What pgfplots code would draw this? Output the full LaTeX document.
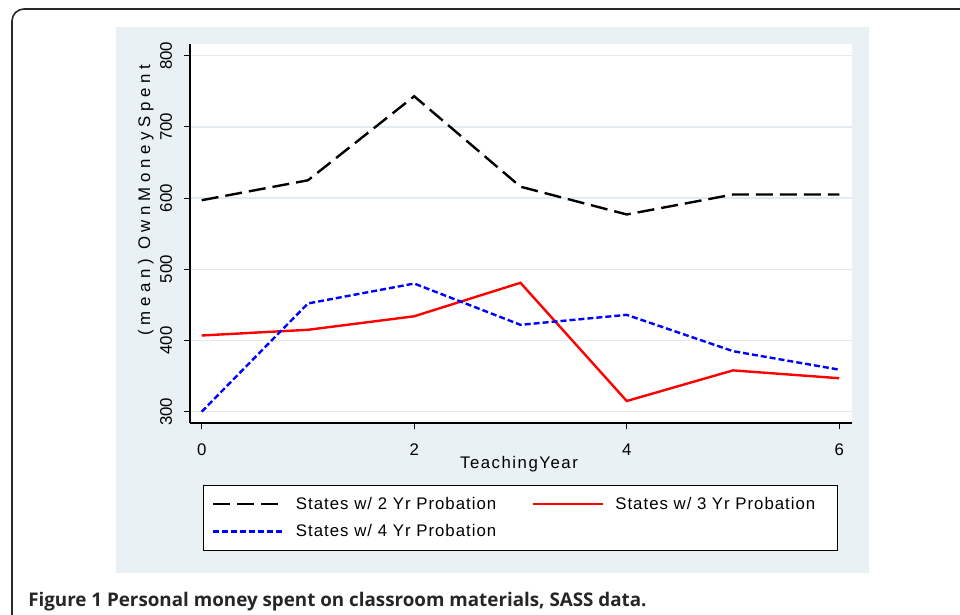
\documentclass[border=0pt]{standalone}
\usepackage{pgfplots}
\pgfplotsset{compat=1.18}
\usepackage{fontspec}
\setmainfont{Liberation Sans}
\newfontfamily\capfont{Open Sans}
\newfontfamily\ylabfont[LetterSpace=28]{Liberation Sans}
\newfontfamily\xlabfont[LetterSpace=9]{Liberation Sans}
\newfontfamily\legfont[LetterSpace=6]{Liberation Sans}
\definecolor{bgcol}{RGB}{233,241,244}
\definecolor{gridcol}{RGB}{226,236,240}
\definecolor{framecol}{RGB}{40,40,40}
\begin{document}
\begin{tikzpicture}[x=0.75pt,y=0.75pt]
\useasboundingbox (0,0) rectangle (960,-614);
\clip (0,0) rectangle (960,-614);
\fill[white] (0,0) rectangle (960,-614);
\draw[framecol, line width=1.2pt, rounded corners=9pt] (12,-9) rectangle (1000,-700);
\fill[bgcol] (115.7,-27) rectangle (869,-573);
\begin{axis}[
  at={(142.5pt,-317.25pt)}, anchor=south west,
  scale only axis, width=496.5pt, height=284.25pt,
  xmin=-0.11, xmax=6.12, ymin=284.1, ymax=816.4,
  axis background/.style={fill=white},
  axis lines*=left,
  axis line style={-, line width=0.9pt, black},
  xtick={0,2,4,6}, ytick={300,400,500,600,700,800},
  tick align=outside, major tick length=4.5pt,
  tick style={line width=0.8pt, black},
  ymajorgrids, major grid style={gridcol, line width=1.1pt},
  /pgf/number format/assume math mode=true,
  ticklabel style={font=\fontsize{12.6pt}{14pt}\selectfont},
  yticklabel style={rotate=90, anchor=south},
  yticklabel shift=5.5pt, xticklabel shift=7.5pt,
  xlabel={TeachingYear},
  xlabel style={at={(axis description cs:0.497,-0.108)}, anchor=center, font=\fontsize{12.6pt}{14pt}\xlabfont},
  ylabel={(mean) OwnMoneySpent},
  ylabel style={at={(axis description cs:-0.0668,0.588)}, anchor=center, font=\fontsize{12.6pt}{14pt}\ylabfont},
  legend columns=2,
  legend style={at={(axis description cs:0.0192,-0.1625)}, anchor=north west,
    draw=black, line width=0.8pt, fill=white, inner xsep=6.75pt, inner ysep=7pt,
    font=\fontsize{12.6pt}{14pt}\legfont, row sep=5.8pt,
    cells={anchor=west, inner sep=0pt},
    /tikz/every odd column/.append style={column sep=6pt},
    /tikz/column 2/.style={column sep=24.5pt},
    /tikz/column 4/.style={text width=158pt}},
  legend image code/.code={\draw[#1] (0pt,0pt) -- (53pt,0pt);},
]
\addplot[black, line width=1.8pt, dash pattern=on 12.75pt off 5.25pt] coordinates {(0,597)(1,625)(2,743)(3,616)(4,577)(5,605)(6,605)};
\addlegendentry{States w/ 2 Yr Probation}
\addplot[red, line width=1.8pt] coordinates {(0,407)(1,415)(2,434)(3,481)(4,315)(5,358)(6,347)};
\addlegendentry{States w/ 3 Yr Probation}
\addplot[blue, line width=1.8pt, dash pattern=on 4.5pt off 2.25pt] coordinates {(0,300)(1,452)(2,480)(3,422)(4,436)(5,385)(6,359)};
\addlegendentry{States w/ 4 Yr Probation}
\end{axis}
\node[anchor=base west, inner sep=0pt, text=black!85, font=\fontsize{14.1pt}{17pt}\capfont\bfseries] at (28,-606) {Figure 1 Personal money spent on classroom materials, SASS data.};
\end{tikzpicture}
\end{document}
